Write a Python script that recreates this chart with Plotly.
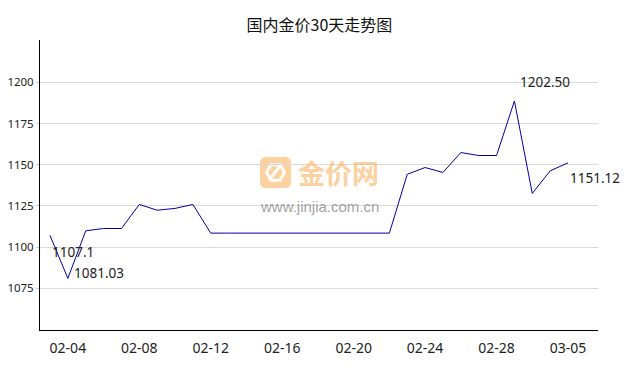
import plotly.graph_objects as go

# ---- data ----
dates = ["02-03", "02-04", "02-05", "02-06", "02-07", "02-08", "02-09", "02-10",
         "02-11", "02-12", "02-13", "02-14", "02-15", "02-16", "02-17", "02-18",
         "02-19", "02-20", "02-21", "02-22", "02-23", "02-24", "02-25", "02-26",
         "02-27", "02-28", "03-02", "03-03", "03-04", "03-05"]
prices = [1107.1, 1081.03, 1109.9, 1111.3, 1111.3, 1125.9, 1122.4, 1123.5,
          1125.9, 1108.5, 1108.5, 1108.5, 1108.5, 1108.5, 1108.5, 1108.5,
          1108.5, 1108.5, 1108.5, 1108.5, 1144.2, 1148.3, 1145.3, 1157.4,
          1155.6, 1155.6, 1188.7, 1132.6, 1146.3, 1151.12]
tick_labels = ["02-04", "02-08", "02-12", "02-16", "02-20", "02-24", "02-28", "03-05"]
y_ticks = [1075, 1100, 1125, 1150, 1175, 1200]
point_labels = ["1107.1", "1081.03", "1202.50", "1151.12"]
label_index = [0, 1, 26, 29]
title = "国内金价30天走势图"

# page has an 8px body margin; size the figure so the plot area lands at 40..598 x 40..330
OFF = 8
W, H = 638 - OFF, 370 - OFF
L, R, T, B = 40 - OFF, 40, 40 - OFF, 40


def px(x):
    return (x - OFF - L) / (W - L - R)


def py(y):
    return (H - B - (y - OFF)) / (H - T - B)


fig = go.Figure()
fig.add_trace(go.Scatter(x=dates, y=prices, mode="lines",
                         line=dict(color="#0000a8", width=1),
                         hoverinfo="x+y", showlegend=False))

# point labels
label_offsets = [(0.0, -10.2), (1.25, 3.4), (26.2, 11.3), (29.0, -9.2)]
for txt, idx, (xo, yo) in zip(point_labels, label_index, label_offsets):
    fig.add_annotation(x=xo, y=prices[idx] + yo, text=txt, showarrow=False,
                       xanchor="left", yanchor="middle", xref="x", yref="y",
                       font=dict(family="Noto Sans", size=13.5, color="#222"))

# watermark
wm_col = "rgba(251,178,96,0.6)"
x0, x1, y0, y1, r = 260, 291, 157, 188, 6
path = (f"M {px(x0+r)},{py(y0)} L {px(x1-r)},{py(y0)} Q {px(x1)},{py(y0)} {px(x1)},{py(y0+r)} "
        f"L {px(x1)},{py(y1-r)} Q {px(x1)},{py(y1)} {px(x1-r)},{py(y1)} "
        f"L {px(x0+r)},{py(y1)} Q {px(x0)},{py(y1)} {px(x0)},{py(y1-r)} "
        f"L {px(x0)},{py(y0+r)} Q {px(x0)},{py(y0)} {px(x0+r)},{py(y0)} Z")
fig.add_shape(type="path", path=path, xref="paper", yref="paper",
              fillcolor=wm_col, line=dict(width=0), layer="below")
cx, cy, rr = 275.5, 172.5, 9
hexpts = [(cx - rr, cy), (cx - rr / 2, cy - rr * 0.87), (cx + rr / 2, cy - rr * 0.87),
          (cx + rr, cy), (cx + rr / 2, cy + rr * 0.87), (cx - rr / 2, cy + rr * 0.87)]
hp = "M " + " L ".join(f"{px(a)},{py(b)}" for a, b in hexpts) + " Z"
fig.add_shape(type="path", path=hp, xref="paper", yref="paper",
              line=dict(color="rgba(255,255,255,0.95)", width=3), layer="below")
fig.add_shape(type="line", x0=px(cx - 5), y0=py(cy + 6), x1=px(cx + 4), y1=py(cy - 6),
              xref="paper", yref="paper", line=dict(color="rgba(255,255,255,0.95)", width=3),
              layer="below")
fig.add_annotation(x=px(338), y=py(172), xref="paper", yref="paper", text="<b>金价网</b>",
                   showarrow=False, xanchor="center", yanchor="middle",
                   font=dict(family="Noto Sans CJK SC", size=27, color=wm_col))
fig.add_annotation(x=px(319.5), y=py(206), xref="paper", yref="paper", text="www.jinjia.com.cn",
                   showarrow=False, xanchor="center", yanchor="middle",
                   font=dict(family="Liberation Sans", size=15, color="rgba(120,120,120,0.7)"))

fig.update_layout(
    width=W, height=H,
    margin=dict(l=L, r=R, t=T, b=B, autoexpand=False),
    paper_bgcolor="white", plot_bgcolor="white",
    title=dict(text=title, x=px(319.5), xref="paper", xanchor="center",
               y=1 - (25 - OFF) / H, yanchor="middle",
               font=dict(family="Noto Sans CJK SC", size=16, color="#111"), automargin=False),
    xaxis=dict(type="category", range=[-0.56, 30.68], automargin=False,
               tickmode="array", tickvals=tick_labels, ticktext=tick_labels,
               showgrid=False, zeroline=False, showline=True, linecolor="black", linewidth=1,
               ticks="", tickfont=dict(family="Noto Sans", size=14, color="#222"),
               ticklabelstandoff=5),
    yaxis=dict(range=[1049.7, 1225.7], tickmode="array", tickvals=y_ticks, automargin=False,
               showgrid=True, gridcolor="#d9d9d9", gridwidth=1, zeroline=False,
               showline=True, linecolor="black", linewidth=1,
               ticks="outside", ticklen=3, tickcolor="#d0d0d0",
               tickfont=dict(family="Noto Sans", size=11.5, color="#222")),
    hovermode="closest",
)

fig.write_html("out.html")
